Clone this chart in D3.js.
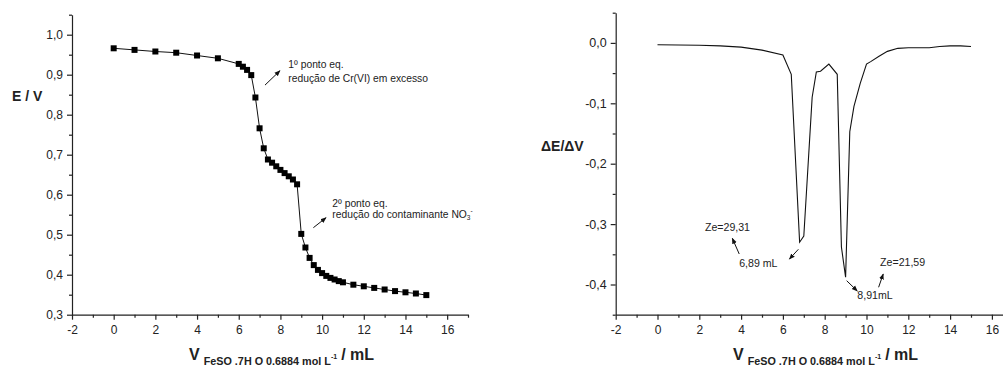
<!DOCTYPE html>
<html><head><meta charset="utf-8">
<script src="https://cdn.jsdelivr.net/npm/d3@7"></script>
<style>
body{margin:0;background:#fff;}
svg text{font-family:"Liberation Sans",Arial,sans-serif;fill:#222;}
</style></head>
<body><svg id="c" width="1003" height="367"></svg>
<script>
// ---- data ----
const titrVolume = [0,1,2,3,4,5,6,6.2,6.4,6.6,6.8,7.0,7.2,7.4,7.6,7.8,8.0,8.2,8.4,8.6,8.8,9.0,9.2,9.4,9.6,9.8,10.0,10.2,10.4,10.6,10.8,11.0,11.5,12,12.5,13,13.5,14,14.5,15];
const potential = [0.966,0.962,0.958,0.955,0.948,0.941,0.927,0.920,0.912,0.899,0.843,0.766,0.716,0.688,0.680,0.671,0.662,0.654,0.646,0.638,0.626,0.502,0.468,0.442,0.424,0.412,0.404,0.397,0.392,0.388,0.384,0.381,0.375,0.371,0.367,0.363,0.359,0.356,0.353,0.349];
const derivVolume = [0,1,2,3,4,5,6,6.4,6.8,7.0,7.4,7.6,7.8,8.2,8.6,8.8,9.0,9.2,9.4,9.7,10.0,10.2,10.6,11.0,11.5,12,12.5,13,13.5,14,14.5,15];
const derivative = [-0.003,-0.0035,-0.004,-0.005,-0.007,-0.012,-0.020,-0.052,-0.330,-0.320,-0.090,-0.048,-0.047,-0.035,-0.052,-0.338,-0.388,-0.147,-0.105,-0.067,-0.035,-0.031,-0.022,-0.014,-0.009,-0.008,-0.008,-0.008,-0.006,-0.005,-0.005,-0.006];
const xTicks = [-2,0,2,4,6,8,10,12,14,16];
const xMinor = [-1,1,3,5,7,9,11,13,15,17];
const leftYTicks = [0.3,0.4,0.5,0.6,0.7,0.8,0.9,1.0];
const leftYMinor = [0.35,0.45,0.55,0.65,0.75,0.85,0.95,1.05];
const rightYTicks = [0.0,-0.1,-0.2,-0.3,-0.4];
const rightYMinor = [0.05,-0.05,-0.15,-0.25,-0.35,-0.45];
const xSubLabel = "FeSO .7H O 0.6884 mol L";

const svg = d3.select("#c");
const fmt = v => d3.format(".1f")(v).replace(".", ",").replace("\u2212", "-");
const fmtX = v => String(v);

const xL = d3.scaleLinear([-2,17],[72,468]);
const yL = d3.scaleLinear([0.3,1.05],[314.7,14.7]);
const xR = d3.scaleLinear([-2,17],[615.7,1012.8]);
const yR = d3.scaleLinear([-0.45,0.05],[314.7,12.7]);

svg.append("defs").append("marker").attr("id","ah").attr("viewBox","0 0 10 10")
  .attr("refX",9).attr("refY",5).attr("markerWidth",6).attr("markerHeight",6)
  .attr("orient","auto").attr("markerUnits","userSpaceOnUse")
  .append("path").attr("d","M0,1 L10,5 L0,9 Z").attr("fill","#111");

function drawAxes(x, y, yTicks, yMinor, ySize){
  const gx = svg.append("g").attr("transform",`translate(0,${y.range()[0]})`);
  gx.call(d3.axisBottom(x).tickValues(xTicks).tickFormat(fmtX).tickSize(5).tickSizeOuter(0).tickPadding(6));
  const gxm = svg.append("g").attr("transform",`translate(0,${y.range()[0]})`);
  gxm.call(d3.axisBottom(x).tickValues(xMinor).tickFormat("").tickSize(3).tickSizeOuter(0));
  gxm.select(".domain").remove();
  const gy = svg.append("g").attr("transform",`translate(${x.range()[0]},0)`);
  gy.call(d3.axisLeft(y).tickValues(yTicks).tickFormat(fmt).tickSize(5).tickSizeOuter(0).tickPadding(4));
  const gym = svg.append("g").attr("transform",`translate(${x.range()[0]},0)`);
  gym.call(d3.axisLeft(y).tickValues(yMinor).tickFormat("").tickSize(3).tickSizeOuter(0));
  gym.select(".domain").remove();
  svg.selectAll(".domain, .tick line").attr("stroke","#222").attr("stroke-width",1.2);
  gx.selectAll("text").attr("font-size","12px").attr("fill","#222").attr("font-family","'Liberation Sans',Arial,sans-serif");
  gy.selectAll("text").attr("font-size",ySize).attr("fill","#222").attr("font-family","'Liberation Sans',Arial,sans-serif");
}
drawAxes(xL, yL, leftYTicks, leftYMinor, "12px");
drawAxes(xR, yR, rightYTicks, rightYMinor, "12.5px");

// left curve
const leftPts = titrVolume.map((v,i)=>[v, potential[i]]);
svg.append("path").datum(leftPts)
  .attr("d", d3.line().x(d=>xL(d[0])).y(d=>yL(d[1])))
  .attr("fill","none").attr("stroke","#111").attr("stroke-width",1);
svg.append("g").selectAll("rect").data(leftPts).join("rect")
  .attr("x",d=>xL(d[0])-3).attr("y",d=>yL(d[1])-3)
  .attr("width",6).attr("height",6).attr("fill","#000");

// right curve
const rightPts = derivVolume.map((v,i)=>[v, derivative[i]]);
svg.append("path").datum(rightPts)
  .attr("d", d3.line().x(d=>xR(d[0])).y(d=>yR(d[1])))
  .attr("fill","none").attr("stroke","#111").attr("stroke-width",1.1);

// annotations (data coordinates)
function arrow(x, y, x1, y1, x2, y2){
  svg.append("line").attr("x1",x(x1)).attr("y1",y(y1)).attr("x2",x(x2)).attr("y2",y(y2))
    .attr("stroke","#111").attr("stroke-width",1).attr("marker-end","url(#ah)");
}
function label(x, y, xv, yv, t, size){
  return svg.append("text").attr("x",x(xv)).attr("y",y(yv)).attr("font-size",(size||10.3)+"px").text(t);
}
label(xL,yL,8.38,0.916,"1º ponto eq.");
label(xL,yL,8.38,0.8825,"redução de Cr(VI) em excesso");
arrow(xL,yL,7.26,0.874,7.98,0.91);
label(xL,yL,10.49,0.57,"2º ponto eq.");
const no3 = label(xL,yL,10.49,0.5425,"redução do contaminante NO");
no3.append("tspan").attr("font-size","6.5px").attr("dy",2).text("3");
no3.append("tspan").attr("font-size","6.5px").attr("dy",-7).text("-");
arrow(xL,yL,9.58,0.5175,10.19,0.5425);

label(xR,yR,2.27,-0.311,"Ze=29,31",10.6);
arrow(xR,yR,3.91,-0.3495,3.58,-0.3235);
label(xR,yR,3.91,-0.3705,"6,89 mL",10.6);
arrow(xR,yR,6.74,-0.3417,6.31,-0.358);
label(xR,yR,10.65,-0.3694,"Ze=21,59",10.6);
arrow(xR,yR,10.58,-0.4046,10.8,-0.3826);
label(xR,yR,9.56,-0.424,"8,91mL",10.6);
arrow(xR,yR,9.05,-0.3937,9.56,-0.4108);

// axis titles
svg.append("text").attr("x",12).attr("y",101).attr("font-size","14px").attr("font-weight","bold").text("E / V");
svg.append("text").attr("x",541).attr("y",151).attr("font-size","14px").attr("font-weight","bold").text("\u0394E/\u0394V");

function xTitle(x0){
  const t = svg.append("text").attr("x",x0).attr("y",360).attr("font-weight","bold").attr("font-size","16px");
  t.append("tspan").text("V");
  t.append("tspan").attr("font-size","10.8px").attr("dx",4).attr("dy",4.5).text(xSubLabel);
  t.append("tspan").attr("font-size","7px").attr("dy",-6).text("-1");
  t.append("tspan").attr("font-size","16px").attr("dx",4).attr("dy",1.5).text("/ mL");
}
xTitle(189);
xTitle(733);
</script></body></html>
